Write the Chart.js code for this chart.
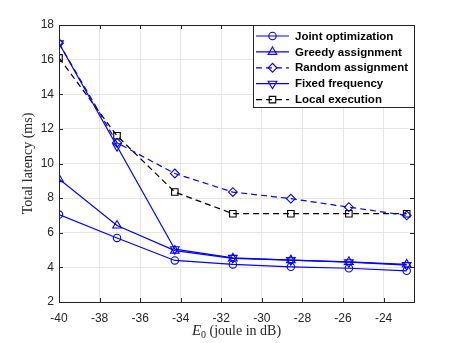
<!DOCTYPE html>
<html>
<head>
<meta charset="utf-8">
<script src="https://cdn.jsdelivr.net/npm/chart.js@4.4.0/dist/chart.umd.min.js"></script>
<style>
  body { margin: 0; background: #fff; }
  #wrap { width: 457px; height: 343px; }
</style>
</head>
<body>
<div id="wrap"><canvas id="latencyChart" width="457" height="343"></canvas></div>
<script>
// E0 values (joule in dB)
const e0Values = [-40, -37.14, -34.29, -31.43, -28.57, -25.71, -22.86];

// Total latency (ms) per scheme
const jointOpt = [7.05, 5.7, 4.4, 4.17, 4.03, 3.95, 3.8];
const greedyAssign = [9.1, 6.42, 4.97, 4.52, 4.42, 4.32, 4.17];
const randomAssign = [16.95, 11.2, 9.42, 8.35, 7.97, 7.48, 7.0];
const fixedFreq = [16.95, 11.0, 5.05, 4.55, 4.42, 4.3, 4.13];
const localExec = [16.1, 11.6, 8.35, 7.1, 7.1, 7.1, 7.1];

const seriesNames = ['Joint optimization', 'Greedy assignment', 'Random assignment', 'Fixed frequency', 'Local execution'];

const xTicks = [-40, -38, -36, -34, -32, -30, -28, -26, -24];
const yTicks = [2, 4, 6, 8, 10, 12, 14, 16, 18];

const BLUE = '#0000ff';
const AXIS = '#262626';

function toPoints(ys) {
    return ys.map((y, i) => ({ x: e0Values[i], y: y }));
}

function series(label, ys, color, style, radius, dashed, rotation) {
    return {
        label: label,
        data: toPoints(ys),
        borderColor: color,
        backgroundColor: 'rgba(0,0,0,0)',
        borderWidth: 1.2,
        borderDash: dashed ? [6, 4] : [],
        pointStyle: style,
        pointRotation: rotation || 0,
        pointRadius: radius,
        pointBorderWidth: 1.1,
        pointBorderColor: color,
        pointBackgroundColor: 'rgba(0,0,0,0)',
        tension: 0
    };
}

const datasets = [
    series(seriesNames[0], jointOpt, BLUE, 'circle', 3.7, false),
    series(seriesNames[1], greedyAssign, BLUE, 'triangle', 5, false),
    series(seriesNames[2], randomAssign, BLUE, 'rectRot', 4.4, true),
    series(seriesNames[3], fixedFreq, BLUE, 'triangle', 5, false, 180),
    series(seriesNames[4], localExec, '#000000', 'rect', 4.6, true)
];

// Box, inward ticks, axis titles and the in-plot legend
const framePlugin = {
    id: 'frame',
    afterDatasetsDraw(chart) {
        const ctx = chart.ctx;
        const area = chart.chartArea;
        const xs = chart.scales.x;
        const ys = chart.scales.y;
        ctx.save();

        // inward tick marks
        ctx.strokeStyle = AXIS;
        ctx.lineWidth = 1;
        ctx.beginPath();
        xTicks.forEach(v => {
            const px = Math.round(xs.getPixelForValue(v)) + 0.5;
            ctx.moveTo(px, area.bottom); ctx.lineTo(px, area.bottom - 4);
            ctx.moveTo(px, area.top); ctx.lineTo(px, area.top + 4);
        });
        yTicks.forEach(v => {
            const py = Math.round(ys.getPixelForValue(v)) + 0.5;
            ctx.moveTo(area.left, py); ctx.lineTo(area.left + 4, py);
            ctx.moveTo(area.right, py); ctx.lineTo(area.right - 4, py);
        });
        ctx.stroke();

        // box
        ctx.strokeRect(Math.round(area.left) + 0.5, Math.round(area.top) + 0.5,
            Math.round(area.right - area.left), Math.round(area.bottom - area.top));

        // y title
        ctx.fillStyle = AXIS;
        ctx.font = '14px "Liberation Serif", "Times New Roman", serif';
        ctx.textAlign = 'center';
        ctx.textBaseline = 'middle';
        ctx.save();
        ctx.translate(28, (area.top + area.bottom) / 2);
        ctx.rotate(-Math.PI / 2);
        ctx.fillText('Total latency (ms)', 0, 0);
        ctx.restore();

        // x title: italic E, subscript 0
        const rest = ' (joule in dB)';
        ctx.font = 'italic 15px "Liberation Serif", serif';
        const wE = ctx.measureText('E').width;
        ctx.font = '10px "Liberation Serif", serif';
        const w0 = ctx.measureText('0').width;
        ctx.font = '14px "Liberation Serif", serif';
        const wR = ctx.measureText(rest).width;
        let tx = (area.left + area.right) / 2 - (wE + w0 + wR) / 2;
        const ty = 335;
        ctx.textAlign = 'left';
        ctx.textBaseline = 'alphabetic';
        ctx.font = 'italic 15px "Liberation Serif", serif';
        ctx.fillText('E', tx, ty);
        tx += wE;
        ctx.font = '10px "Liberation Serif", serif';
        ctx.fillText('0', tx, ty + 3);
        tx += w0;
        ctx.font = '14px "Liberation Serif", serif';
        ctx.fillText(rest, tx, ty);

        // legend box
        const lx = 253, ly = 25, lw = 161, lh = 82;
        ctx.fillStyle = '#ffffff';
        ctx.fillRect(lx, ly, lw, lh);
        ctx.strokeStyle = AXIS;
        ctx.lineWidth = 1;
        ctx.strokeRect(lx + 0.5, ly + 0.5, lw, lh);

        ctx.font = 'bold 11.5px "Liberation Sans", Arial, sans-serif';
        ctx.textBaseline = 'middle';
        chart.data.datasets.forEach((ds, i) => {
            const cy = 36 + i * 15.9;
            ctx.strokeStyle = ds.borderColor;
            ctx.lineWidth = ds.borderWidth;
            ctx.setLineDash(ds.borderDash);
            ctx.beginPath();
            ctx.moveTo(256, cy);
            ctx.lineTo(289, cy);
            ctx.stroke();
            ctx.setLineDash([]);
            ctx.fillStyle = 'rgba(0,0,0,0)';
            ctx.lineWidth = ds.pointBorderWidth;
            Chart.helpers.drawPoint(ctx, {
                pointStyle: ds.pointStyle,
                rotation: ds.pointRotation,
                radius: ds.pointRadius,
                borderWidth: ds.pointBorderWidth
            }, 272.5, cy);
            ctx.fillStyle = '#000000';
            ctx.textAlign = 'left';
            ctx.fillText(ds.label, 295, cy + 0.5);
        });
        ctx.restore();
    }
};

const ctx = document.getElementById('latencyChart').getContext('2d');
const latencyChart = new Chart(ctx, {
    type: 'line',
    data: { datasets: datasets },
    options: {
        responsive: false,
        animation: false,
        devicePixelRatio: 1,
        layout: { padding: { left: 0, top: 25, right: 43, bottom: 0 } },
        plugins: {
            legend: { display: false },
            tooltip: { enabled: false }
        },
        scales: {
            x: {
                type: 'linear',
                min: -40,
                max: -22.5,
                afterBuildTicks: scale => { scale.ticks = xTicks.map(v => ({ value: v })); },
                afterFit: scale => { scale.height = 41; },
                grid: { color: '#e6e6e6', drawTicks: false },
                border: { display: false },
                ticks: {
                    color: AXIS,
                    padding: 9,
                    maxRotation: 0,
                    font: { family: '"Liberation Sans", Arial, sans-serif', size: 12 }
                }
            },
            y: {
                type: 'linear',
                min: 2,
                max: 18,
                afterBuildTicks: scale => { scale.ticks = yTicks.map(v => ({ value: v })); },
                afterFit: scale => { scale.width = 59; },
                grid: { color: '#e6e6e6', drawTicks: false },
                border: { display: false },
                ticks: {
                    color: AXIS,
                    padding: 5,
                    font: { family: '"Liberation Sans", Arial, sans-serif', size: 12 }
                }
            }
        }
    },
    plugins: [framePlugin]
});
</script>
</body>
</html>
